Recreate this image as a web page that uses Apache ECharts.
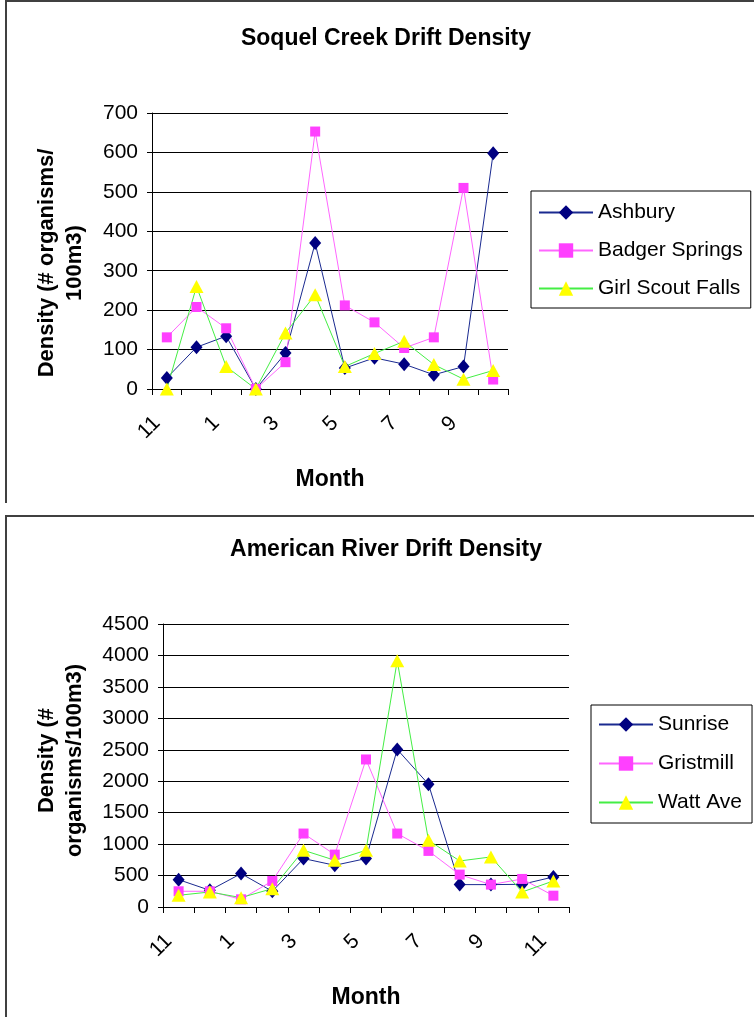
<!DOCTYPE html>
<html lang="en">
<head>
    <meta charset="UTF-8">
    <title>Drift Density</title>
    <style>
        html, body { margin: 0; padding: 0; background: #fff; }
        #main { width: 754px; height: 1017px; }
    </style>
    <script src="https://cdn.jsdelivr.net/npm/echarts@6/dist/echarts.min.js"></script>
</head>
<body>
<div id="main"></div>
<script type="text/javascript">
    // Soquel Creek (months 11 .. 10)
    var soquelMonths = ['11', '12', '1', '2', '3', '4', '5', '6', '7', '8', '9', '10'];
    var ashbury = [28, 106, 134, 0, 91, 370, 53, 79, 63, 36, 57, 598];
    var badgerSprings = [131, 208, 154, 0, 68, 653, 212, 169, 104, 131, 510, 24];
    var girlScoutFalls = [0, 260, 57, 0, 142, 239, 57, 90, 121, 62, 25, 47];

    // American River (months 11 .. 11)
    var americanMonths = ['11', '12', '1', '2', '3', '4', '5', '6', '7', '8', '9', '10', '11'];
    var sunrise = [435, 265, 531, 250, 770, 663, 770, 2505, 1953, 356, 356, 361, 478];
    var gristmill = [250, 250, 122, 414, 1168, 833, 2346, 1168, 892, 515, 356, 446, 180];
    var wattAve = [186, 239, 149, 292, 902, 743, 902, 3917, 1062, 732, 796, 239, 414];

    var FONT = 'Liberation Sans, Arial, sans-serif';

    var myChart = echarts.init(document.getElementById('main'));

    function xAxisFor(gi, cats) {
        return {
            type: 'category', gridIndex: gi, data: cats,
            name: 'Month', nameLocation: 'middle', nameGap: 79,
            nameTextStyle: { fontFamily: FONT, fontSize: 23, fontWeight: 'bold', color: '#000' },
            axisLine: { lineStyle: { color: '#000', width: 1 } },
            axisTick: { show: true, interval: 0, length: 6, lineStyle: { color: '#000' } },
            axisLabel: { interval: 1, rotate: 45, margin: 21, padding: [0, 14, 0, 0],
                         fontFamily: FONT, fontSize: 21, color: '#000' },
            splitLine: { show: false }
        };
    }

    function yAxisFor(gi, max, step, name, gap, pad) {
        return {
            type: 'value', gridIndex: gi, min: 0, max: max, interval: step,
            name: name, nameLocation: 'middle', nameRotate: 90, nameGap: gap,
            nameTextStyle: { fontFamily: FONT, fontSize: 22, fontWeight: 'bold', color: '#000',
                             lineHeight: 28, padding: pad },
            axisLine: { show: true, lineStyle: { color: '#000', width: 1 } },
            axisTick: { show: true, length: 5, lineStyle: { color: '#000' } },
            axisLabel: { margin: 14, fontFamily: FONT, fontSize: 21, color: '#000',
                         formatter: function (v) { return String(v); } },
            splitLine: { show: true, lineStyle: { color: '#000', width: 1 } }
        };
    }

    function lineSeries(name, data, gi, symbol, size, markColor, lineColor) {
        return {
            name: name, type: 'line', xAxisIndex: gi, yAxisIndex: gi,
            data: data, symbol: symbol, symbolSize: size, showAllSymbol: true,
            itemStyle: { color: markColor, borderWidth: 0 },
            lineStyle: { color: lineColor, width: 1 },
            animation: false
        };
    }

    var option = {
        backgroundColor: '#fff',
        animation: false,
        title: [
            { text: 'Soquel Creek Drift Density', left: 381, top: 22, textAlign: 'center',
              textStyle: { fontFamily: FONT, fontSize: 23, fontWeight: 'bold', color: '#000' } },
            { text: 'American River Drift Density', left: 381, top: 533, textAlign: 'center',
              textStyle: { fontFamily: FONT, fontSize: 23, fontWeight: 'bold', color: '#000' } }
        ],
        legend: [
            { data: ['Ashbury', 'Badger Springs', 'Girl Scout Falls'], orient: 'vertical',
              left: 531, top: 191, itemWidth: 54, itemHeight: 18, itemGap: 17,
              padding: [11, 8, 9, 7], borderColor: '#000', borderWidth: 1,
              textStyle: { fontFamily: FONT, fontSize: 21, color: '#000' } },
            { data: ['Sunrise', 'Gristmill', 'Watt Ave'], orient: 'vertical',
              left: 591, top: 705, itemWidth: 54, itemHeight: 18, itemGap: 18,
              padding: [9, 10, 10, 7], borderColor: '#000', borderWidth: 1,
              textStyle: { fontFamily: FONT, fontSize: 21, color: '#000' } }
        ],
        grid: [
            { left: 152, top: 113, width: 356, height: 276 },
            { left: 163, top: 624, width: 406, height: 283 }
        ],
        xAxis: [xAxisFor(0, soquelMonths), xAxisFor(1, americanMonths)],
        yAxis: [
            yAxisFor(0, 700, 100, 'Density (# organisms/\n100m3)', 63, [0, 24, 0, 0]),
            yAxisFor(1, 4500, 500, 'Density (#\norganisms/100m3)', 74, [0, 0, 0, 10])
        ],
        graphic: [
            { type: 'polyline', shape: { points: [[6, 503], [6, 1], [754, 1]] },
              style: { stroke: '#404040', lineWidth: 2, fill: null } },
            { type: 'polyline', shape: { points: [[6, 1017], [6, 516], [754, 516]] },
              style: { stroke: '#404040', lineWidth: 2, fill: null } }
        ],
        series: [
            lineSeries('Ashbury', ashbury, 0, 'diamond', [12, 14], '#000080', '#1a2a90'),
            lineSeries('Badger Springs', badgerSprings, 0, 'rect', 10, '#ff40ff', '#ff66ff'),
            lineSeries('Girl Scout Falls', girlScoutFalls, 0, 'triangle', [14, 13], '#ffff00', '#44ee44'),
            lineSeries('Sunrise', sunrise, 1, 'diamond', [12, 14], '#000080', '#1a2a90'),
            lineSeries('Gristmill', gristmill, 1, 'rect', 10, '#ff40ff', '#ff66ff'),
            lineSeries('Watt Ave', wattAve, 1, 'triangle', [14, 13], '#ffff00', '#44ee44')
        ]
    };
    myChart.setOption(option);
</script>
</body>
</html>
